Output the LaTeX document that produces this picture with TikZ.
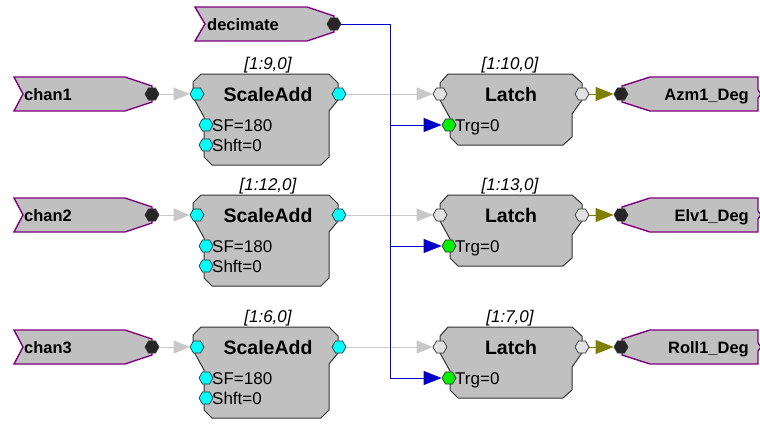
\documentclass[tikz,border=0pt]{standalone}
\usepackage{fontspec}
\setmainfont{Liberation Sans}
\usetikzlibrary{arrows.meta, shapes.geometric}

\definecolor{tagfill}{RGB}{192,192,192}
\definecolor{tagline}{RGB}{128,0,128}
\definecolor{wireblu}{RGB}{0,0,200}
\definecolor{wiregry}{RGB}{200,200,200}
\definecolor{wireolv}{RGB}{128,128,0}
\definecolor{portcy}{RGB}{0,255,255}
\definecolor{portgn}{RGB}{0,240,0}
\definecolor{portgy}{RGB}{225,225,225}

\tikzset{
  port/.style={regular polygon, regular polygon sides=6, minimum size=14pt,
    inner sep=0pt, draw=black!80, line width=0.7pt, fill=#1},
  tagbox/.style={fill=tagfill, draw=tagline, line width=1.4pt},
  blockbox/.style={fill=tagfill, draw=black!80, line width=1pt},
  tagtext/.style={font=\bfseries\fontsize{16.5}{18}\selectfont, inner sep=0pt},
  blkname/.style={font=\bfseries\fontsize{19.5}{22}\selectfont, inner sep=0pt, anchor=base},
  blkid/.style={font=\itshape\fontsize{17}{19}\selectfont, inner sep=0pt, anchor=base},
  param/.style={font=\fontsize{17}{19}\selectfont, inner sep=0pt, anchor=base west},
  wiregray/.style={draw=wiregry, line width=1pt, -{Triangle[length=16pt,width=13pt]}},
  wireblue/.style={draw=wireblu, line width=0.9pt, -{Triangle[length=18pt,width=14pt]}},
  wireolive/.style={draw=wireolv, line width=1pt, -{Triangle[length=18pt,width=14pt]}}
}

\begin{document}
\begin{tikzpicture}[x=1pt, y=-1pt]

    \useasboundingbox (0,0) rectangle (760,423);

    % tag decimate
    \draw[tagbox] (195,7) -- (307,7) -- (334,16) -- (334,32) -- (307,41) -- (195,41) -- (205,24) -- cycle;
    \node[tagtext, anchor=base west] (dec) at (207,30) {decimate};
    \node[port=black!85] (dec-out) at (334,24) {};
    \coordinate (bus) at (390,24);

    \foreach \c/\n/\ka/\kl/\out in {94/1/9/10/Azm1, 215/2/12/13/Elv1, 347/3/6/7/Roll1}{
    \begin{scope}[shift={(0,\c)}]

        % tag ingresso
        \draw[tagbox] (14,-17) -- (125,-17) -- (152,-8) -- (152,8) -- (125,17) -- (14,17) -- (23,0) -- cycle;
        \node[tagtext, anchor=base west] (chan\n) at (24,6) {chan\n};
        \node[port=black!85] (chan\n-out) at (152,0) {};

        % blocco ScaleAdd
        \draw[blockbox] (201,-20) -- (329,-20) -- (338,-11) -- (338,6) -- (329,17) -- (329,63) -- (321,71)
            -- (212,71) -- (204,63) -- (204,23) -- (193,3) -- (193,-12) -- cycle;
        \node[blkid] (sa\n-id) at (268,-25) {[1:\ka,0]};
        \node[blkname] (sa\n) at (268,7) {ScaleAdd};
        \node[param] (sa\n-sftxt) at (212,37) {SF=180};
        \node[param] (sa\n-shtxt) at (212,57) {Shft=0};
        \node[port=portcy] (sa\n-in) at (197,0) {};
        \node[port=portcy] (sa\n-out) at (339,0) {};
        \node[port=portcy] (sa\n-sf) at (206,31) {};
        \node[port=portcy] (sa\n-sh) at (206,51) {};

        % blocco Latch
        \draw[blockbox] (448,-20) -- (572,-20) -- (582,-11) -- (582,6) -- (572,20) -- (572,43) -- (563,51)
            -- (458,51) -- (450,43) -- (450,24) -- (440,6) -- (440,-11) -- cycle;
        \node[blkid] (la\n-id) at (510,-25) {[1:\kl,0]};
        \node[blkname] (la\n) at (511,7) {Latch};
        \node[param] (la\n-trgtxt) at (455,37) {Trg=0};
        \node[port=portgy] (la\n-in) at (440,0) {};
        \node[port=portgy] (la\n-out) at (582,0) {};
        \node[port=portgn] (la\n-trg) at (449,31) {};

        % tag uscita
        \draw[tagbox] (650,-17) -- (758,-17) -- (758,-4) -- (761,0) -- (758,4) -- (758,17) -- (650,17)
            -- (622,8) -- (622,-8) -- cycle;
        \node[tagtext, anchor=base east] (out\n) at (749,6) {\out\_Deg};
        \node[port=black!85] (out\n-in) at (621,0) {};

    \end{scope}

    % collegamenti
    \draw[wiregray] (chan\n-out) -- (sa\n-in);
    \draw[wiregray] (sa\n-out) -- (la\n-in);
    \draw[wireolive] (la\n-out) -- (out\n-in);
    \draw[wireblue] (dec-out) -- (bus) |- (la\n-trg);
    }

\end{tikzpicture}
\end{document}
